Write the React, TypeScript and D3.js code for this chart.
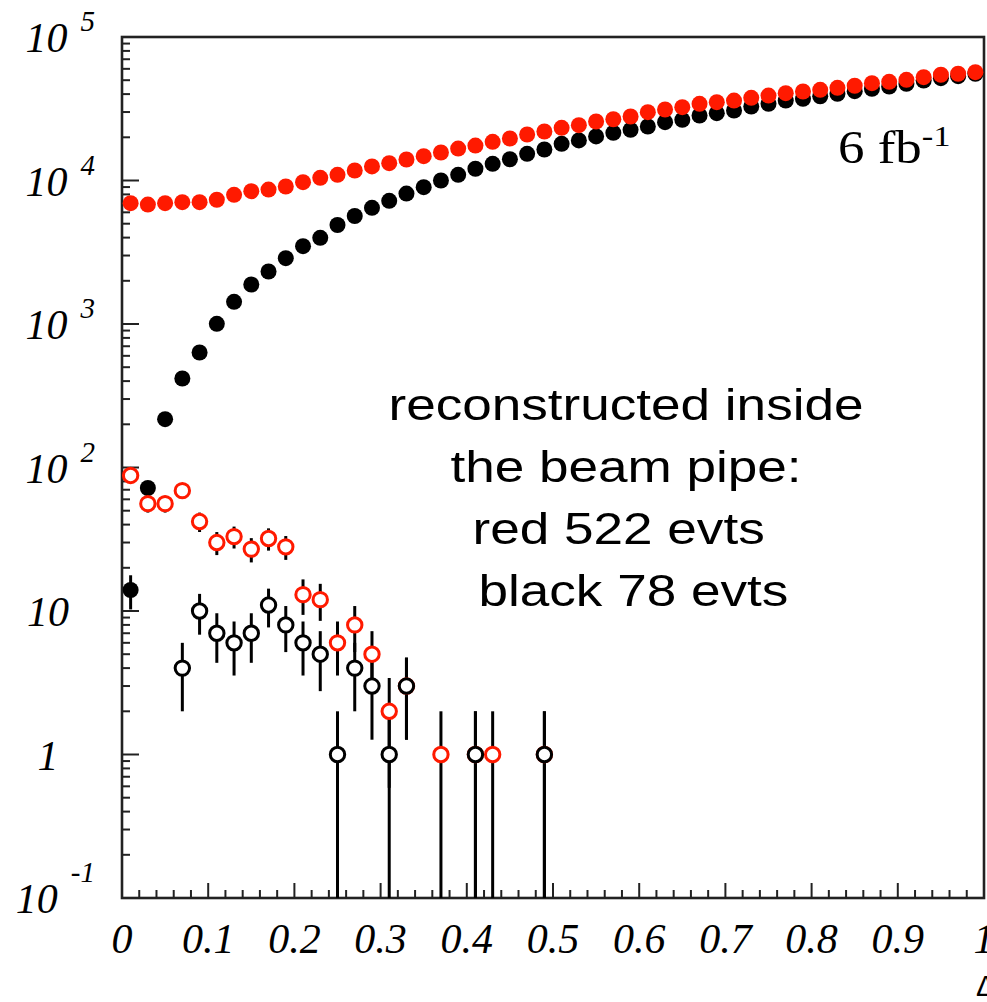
import * as d3 from "d3";

// histogram bins: 50 bins of width 0.02 from 0 to 1
const binCenters = d3.range(50).map((i) => 0.01 + 0.02 * i);

// filled markers, all events
const redFilled = [
  6950, 6800, 6950, 7060, 7060, 7340, 7950, 8420, 8650, 9080, 9730, 10440, 10960, 11740, 12530,
  13200, 14010, 14770, 15670, 16700, 17520, 18600, 19620, 20920, 21950, 23290, 24280, 25760,
  26720, 27920, 29920, 31260, 32430, 34230, 35140, 36080, 37670, 39090, 40580, 41700, 42860,
  44270, 45720, 47680, 48740, 50320, 52520, 54560, 55460, 56910,
];
const blackFilled = [
  14, 72, 217, 417, 633, 1003, 1428, 1885, 2321, 2875, 3485, 3987, 4895, 5660, 6450, 7220, 8110,
  8980, 10000, 10960, 12070, 13070, 14070, 15350, 16440, 18020, 19010, 20270, 21500, 22550, 23790,
  25480, 26480, 28380, 29440, 30750, 32800, 34230, 36080, 37070, 38650, 40170, 41900, 43540, 45170,
  47170, 49750, 51640, 53330, 55460,
];

// open markers: reconstructed inside the beam pipe
const openRedX = [0.01, 0.03, 0.05, 0.07, 0.09, 0.11, 0.13, 0.15, 0.17, 0.19, 0.21, 0.23, 0.25, 0.27, 0.29, 0.31, 0.33, 0.37, 0.41, 0.43, 0.49];
const openRedY = [88, 56, 56, 69, 42, 30, 33, 27, 32, 28, 13, 12, 6, 8, 5, 2, 3, 1, 1, 1, 1];
const openBlackX = [0.07, 0.09, 0.11, 0.13, 0.15, 0.17, 0.19, 0.21, 0.23, 0.25, 0.27, 0.29, 0.31, 0.33, 0.41, 0.49];
const openBlackY = [4, 10, 7, 6, 7, 11, 8, 6, 5, 1, 4, 3, 1, 3, 1, 1];

const yTickValues = [0.1, 1, 10, 100, 1000, 10000, 100000];
const yTickBase = ["10", "1", "10", "10", "10", "10", "10"];
const yTickExp = ["-1", "", "", "2", "3", "4", "5"];
const xTickValues = [0, 0.1, 0.2, 0.3, 0.4, 0.5, 0.6, 0.7, 0.8, 0.9, 1];
const xTickLabels = ["0", "0.1", "0.2", "0.3", "0.4", "0.5", "0.6", "0.7", "0.8", "0.9", "1"];

const noteLines = ["reconstructed inside", "the beam pipe:", "red 522 evts ", " black 78 evts"];

const RED = "#ff1a00";

export default function App() {
  const width = 987;
  const height = 1002;
  const left = 122;
  const right = 984;
  const top = 37;
  const bottom = 898;

  const x = d3.scaleLinear().domain([0, 1]).range([left, right]);
  const y = d3.scaleLog().domain([0.1, 1e5]).range([bottom, top]);

  // minor ticks 2..9 in every decade
  const yMinor: number[] = [];
  for (let e = -1; e < 5; e++) {
    for (let m = 2; m <= 9; m++) yMinor.push(m * Math.pow(10, e));
  }
  const xMinor = d3.range(0, 1.0001, 0.02);

  const errBar = (v: number) => {
    const s = Math.sqrt(v);
    return [Math.max(v - s, 0.1), v + s];
  };

  const serif = "'Liberation Serif', 'Times New Roman', serif";
  const sans = "'Liberation Sans', Arial, sans-serif";

  return (
    <svg
      width={width}
      height={height}
      style={{ position: "absolute", left: 0, top: 0, background: "#fff" }}
    >
      <rect width={width} height={height} fill="#fff" />

      {/* ticks */}
      <g stroke="#222" strokeWidth={2}>
        {yTickValues.map((v) => (
          <line key={"ym" + v} x1={left} x2={left + 17} y1={y(v)} y2={y(v)} />
        ))}
        {yMinor.map((v) => (
          <line key={"yn" + v} x1={left} x2={left + 8} y1={y(v)} y2={y(v)} />
        ))}
        {xMinor.map((v, i) => (
          <line
            key={"xn" + i}
            x1={x(v)}
            x2={x(v)}
            y1={bottom}
            y2={bottom - (i % 5 === 0 ? 15 : 8)}
          />
        ))}
      </g>

      {/* frame */}
      <rect
        x={left}
        y={top}
        width={right - left}
        height={bottom - top}
        fill="none"
        stroke="#222"
        strokeWidth={2.6}
      />

      {/* y tick labels */}
      {yTickValues.map((v, i) =>
        yTickExp[i] ? (
          <text
            key={"yl" + v}
            x={95}
            y={y(v) + 15}
            textAnchor="end"
            fontFamily={serif}
            fontStyle="italic"
            fontSize={42}
          >
            {yTickBase[i]}
            <tspan dx={13} dy={yTickExp[i] === "-1" ? -31 : -21} fontSize={29}>
              {yTickExp[i]}
            </tspan>
          </text>
        ) : (
          <text
            key={"yl" + v}
            x={48}
            y={y(v) + 15}
            textAnchor="middle"
            fontFamily={serif}
            fontStyle="italic"
            fontSize={42}
          >
            {yTickBase[i]}
          </text>
        )
      )}

      {/* x tick labels */}
      {xTickValues.map((v, i) => (
        <text
          key={"xl" + v}
          x={x(v)}
          y={953}
          textAnchor="middle"
          fontFamily={serif}
          fontStyle="italic"
          fontSize={42}
        >
          {xTickLabels[i]}
        </text>
      ))}
      <text x={976} y={996} fontFamily={sans} fontSize={30}>
        Δ
      </text>

      {/* error bars */}
      <g stroke="#000" strokeWidth={3}>
        {blackFilled.map((v, i) => {
          const [lo, hi] = errBar(v);
          return <line key={"eb" + i} x1={x(binCenters[i])} x2={x(binCenters[i])} y1={y(lo)} y2={y(hi)} />;
        })}
        {openRedY.map((v, i) => {
          const [lo, hi] = errBar(v);
          return <line key={"er" + i} x1={x(openRedX[i])} x2={x(openRedX[i])} y1={y(lo)} y2={y(hi)} />;
        })}
        {openBlackY.map((v, i) => {
          const [lo, hi] = errBar(v);
          return <line key={"ek" + i} x1={x(openBlackX[i])} x2={x(openBlackX[i])} y1={y(lo)} y2={y(hi)} />;
        })}
      </g>

      {/* filled markers */}
      {blackFilled.map((v, i) => (
        <circle key={"bf" + i} cx={x(binCenters[i])} cy={y(v)} r={8} fill="#000" />
      ))}
      {redFilled.map((v, i) => (
        <circle key={"rf" + i} cx={x(binCenters[i])} cy={y(v)} r={8} fill={RED} />
      ))}

      {/* open markers */}
      {openRedY.map((v, i) => (
        <circle
          key={"ro" + i}
          cx={x(openRedX[i])}
          cy={y(v)}
          r={7.2}
          fill="#fff"
          stroke={RED}
          strokeWidth={3}
        />
      ))}
      {openBlackY.map((v, i) => (
        <circle
          key={"ko" + i}
          cx={x(openBlackX[i])}
          cy={y(v)}
          r={7.2}
          fill="#fff"
          stroke="#000"
          strokeWidth={3}
        />
      ))}

      {/* luminosity */}
      <g transform="translate(838,163) scale(1.15,1)">
        <text x={0} y={0} fontFamily={serif} fontSize={46}>
          6 fb
          <tspan dy={-17} fontSize={30}>
            -1
          </tspan>
        </text>
      </g>

      {/* annotation */}
      {noteLines.map((t, i) => (
        <g key={"n" + i} transform={`translate(626,${420 + i * 62}) scale(1.18,1)`}>
          <text
            x={0}
            y={0}
            textAnchor="middle"
            fontFamily={sans}
            fontSize={45}
            style={{ whiteSpace: "pre" }}
          >
            {t}
          </text>
        </g>
      ))}
    </svg>
  );
}
